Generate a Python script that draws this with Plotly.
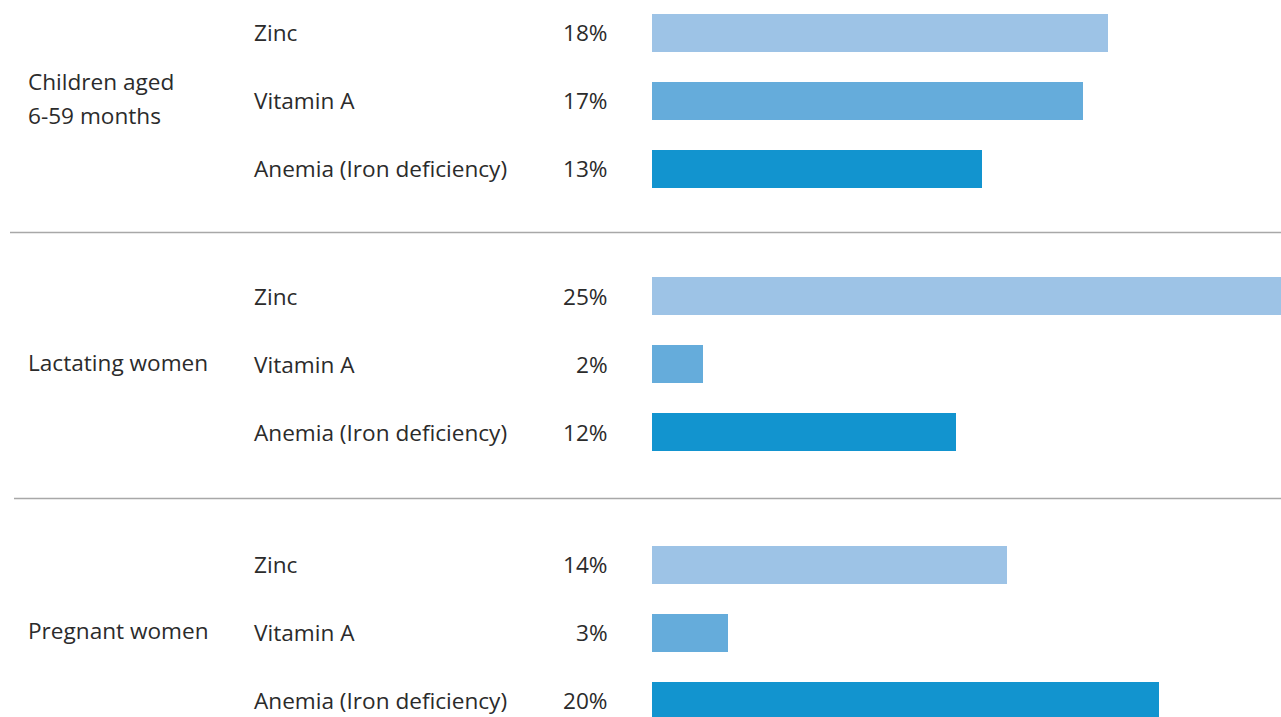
import plotly.graph_objects as go

groups = ["Children aged<br>6-59 months", "Lactating women", "Pregnant women"]
nutrients = ["Zinc", "Vitamin A", "Anemia (Iron deficiency)"]
children = [18, 17, 13]
lactating = [25, 2, 12]
pregnant = [14, 3, 20]
values = [children, lactating, pregnant]

colors = ["#9DC3E6", "#65ACDB", "#1294CF"]
font_color = "#2b2b2b"
font_family = "Open Sans, Noto Sans, sans-serif"

# where each group starts, in row units (one row = one unit)
group_starts = [0, 3.87, 7.82]

fig = go.Figure()
annotations = []
shapes = []

for g, (group, vals) in enumerate(zip(groups, values)):
    base = group_starts[g]
    ys = [base + i for i in range(len(nutrients))]
    for i, (nut, v) in enumerate(zip(nutrients, vals)):
        fig.add_trace(go.Bar(
            x=[v],
            y=[ys[i]],
            orientation="h",
            width=0.56,
            marker_color=colors[i],
            marker_line_width=0,
            showlegend=False,
            hoverinfo="skip"))
        annotations.append(dict(
            x=252 / 1281, xref="paper", y=ys[i], yref="y",
            text=nut, showarrow=False, xanchor="left", yanchor="middle"))
        annotations.append(dict(
            x=610 / 1281, xref="paper", y=ys[i], yref="y",
            text=f"{v}%", showarrow=False, xanchor="right", yanchor="middle"))

    # group label, split over lines with wider spacing than default
    lines = group.split("<br>")
    for k, line in enumerate(lines):
        off = (k - (len(lines) - 1) / 2) * 0.5 - 0.03
        annotations.append(dict(
            x=26 / 1281, xref="paper", y=base + 1 + off, yref="y",
            text=line, showarrow=False, xanchor="left", yanchor="middle"))

    if g > 0:
        ysep = (group_starts[g - 1] + 2 + base) / 2
        shapes.append(dict(
            type="line", xref="paper", yref="y",
            x0=(10 if g == 1 else 14) / 1281, x1=1,
            y0=ysep, y1=ysep,
            line=dict(color="#a8a8a8", width=1.5)))

fig.update_layout(
    width=1281, height=717,
    margin=dict(l=0, r=0, t=0, b=0),
    paper_bgcolor="white", plot_bgcolor="white",
    font=dict(family=font_family, size=22.6, color=font_color),
    annotations=annotations,
    shapes=shapes,
    bargap=0)

fig.update_xaxes(range=[-25.72, 24.81], visible=False, fixedrange=True)
fig.update_yaxes(range=[10.06, -0.485], visible=False, fixedrange=True)

fig.write_html("out.html", config={"displayModeBar": False},
               post_script="document.body.style.margin='0';"
                           "document.body.style.overflow='hidden';")
